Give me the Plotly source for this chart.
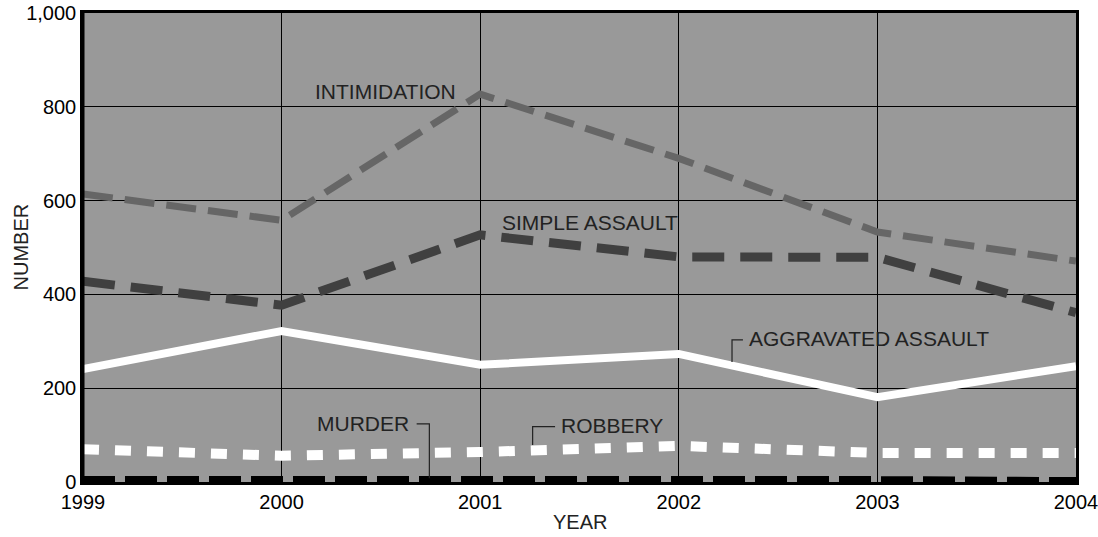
import plotly.graph_objects as go

years = [1999, 2000, 2001, 2002, 2003, 2004]
intimidation = [614, 558, 827, 690, 533, 471]
simple_assault = [428, 377, 527, 480, 479, 361]
aggravated_assault = [241, 322, 250, 273, 181, 247]
robbery = [70, 56, 64, 77, 62, 62]
murder = [4, 5, 3, 4, 4, 2]

y_ticks = [0, 200, 400, 600, 800, 1000]

FONT = "Liberation Sans, Arial, sans-serif"

fig = go.Figure()
fig.add_trace(go.Scatter(x=years, y=intimidation, mode="lines", name="INTIMIDATION",
                         line=dict(color="#666666", width=7, dash="30px,12px")))
fig.add_trace(go.Scatter(x=years, y=simple_assault, mode="lines", name="SIMPLE ASSAULT",
                         line=dict(color="#404040", width=9, dash="32px,16px")))
fig.add_trace(go.Scatter(x=years, y=aggravated_assault, mode="lines", name="AGGRAVATED ASSAULT",
                         line=dict(color="#ffffff", width=8)))
fig.add_trace(go.Scatter(x=years, y=robbery, mode="lines", name="ROBBERY",
                         line=dict(color="#ffffff", width=10, dash="16px,16px")))
fig.add_trace(go.Scatter(x=years, y=murder, mode="lines", name="MURDER",
                         line=dict(color="#000000", width=8, dash="32px,10px")))

ann_font = dict(family=FONT, size=21, color="#222222")
annotations = [
    dict(x=2000.158, y=832, text="INTIMIDATION", xanchor="left", yanchor="middle"),
    dict(x=2001.10, y=554, text="SIMPLE ASSAULT", xanchor="left", yanchor="middle"),
    dict(x=2002.343, y=307, text="AGGRAVATED ASSAULT", xanchor="left", yanchor="middle"),
    dict(x=2000.65, y=124, text="MURDER", xanchor="right", yanchor="middle"),
    dict(x=2001.397, y=120, text="ROBBERY", xanchor="left", yanchor="middle"),
]
for a in annotations:
    a.update(xref="x", yref="y", showarrow=False, font=ann_font)

annotations.append(dict(xref="paper", yref="paper", x=0, y=0.5, xshift=-63, text="NUMBER",
                        textangle=-90, showarrow=False, xanchor="center", yanchor="middle",
                        font=dict(family=FONT, size=20, color="#222222")))
annotations.append(dict(xref="paper", yref="paper", x=0.5, y=0, yshift=-40, text="YEAR",
                        showarrow=False, xanchor="center", yanchor="middle",
                        font=dict(family=FONT, size=20, color="#222222")))

leader = dict(color="#222222", width=1.2)
shapes = [
    dict(type="path", xref="x", yref="y",
         path="M 2002.268 256 L 2002.268 303 L 2002.323 303", line=leader),
    dict(type="path", xref="x", yref="y",
         path="M 2000.68 124 L 2000.744 124 L 2000.744 8", line=leader),
    dict(type="path", xref="x", yref="y",
         path="M 2001.264 79 L 2001.264 118 L 2001.377 118", line=leader),
    dict(type="line", xref="paper", yref="paper", x0=0, x1=0, y0=0, y1=1,
         line=dict(color="black", width=3)),
]

fig.update_layout(
    width=1098, height=537,
    margin=dict(l=83, r=22, t=13, b=55, autoexpand=False),
    plot_bgcolor="#999999", paper_bgcolor="white",
    showlegend=False,
    font=dict(family=FONT, size=21, color="black"),
    annotations=annotations,
    shapes=shapes,
)
fig.update_xaxes(range=[1999, 2004], tickmode="array", tickvals=years,
                 ticktext=[str(y) for y in years], automargin=False,
                 ticklabeloverflow="allow",
                 showgrid=True, gridcolor="black", gridwidth=1,
                 showline=True, linecolor="black", linewidth=2.5, mirror=True,
                 zeroline=False, ticks="", tickfont=dict(size=20))
fig.update_yaxes(range=[0, 1000], tickmode="array", tickvals=y_ticks,
                 ticktext=[f"{v:,}" for v in y_ticks], automargin=False,
                 ticklabeloverflow="allow",
                 showgrid=True, gridcolor="black", gridwidth=1,
                 showline=True, linecolor="black", linewidth=2.5, mirror=True,
                 zeroline=False, ticks="", tickfont=dict(size=20))

fig.write_html("out.html", config={"displayModeBar": False},
               post_script="document.body.style.margin='0';document.body.style.overflow='hidden';")
